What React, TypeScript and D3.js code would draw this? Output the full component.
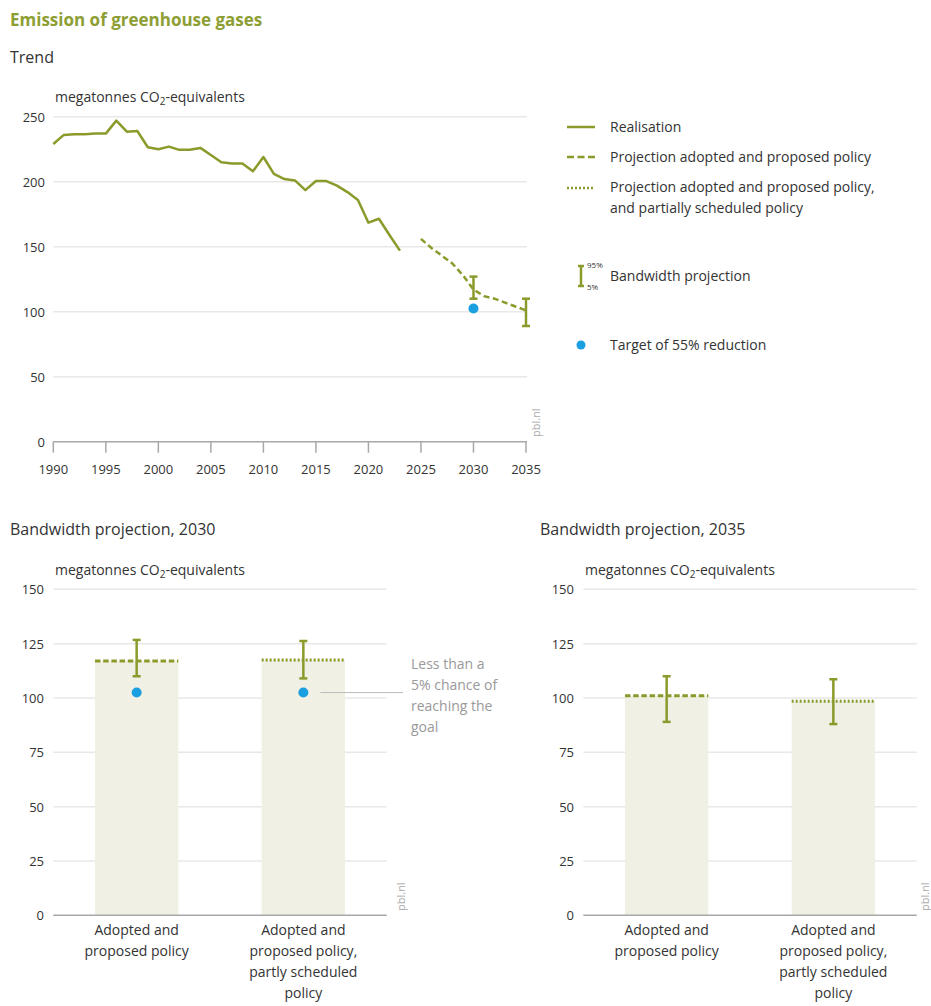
import React from 'react';
import * as d3 from 'd3';

// ---------- data ----------
const realYears = [1990,1991,1992,1993,1994,1995,1996,1997,1998,1999,2000,2001,2002,2003,2004,2005,2006,2007,2008,2009,2010,2011,2012,2013,2014,2015,2016,2017,2018,2019,2020,2021,2022,2023];
const realValues = [229,236,236.5,236.5,237,237,247,238.5,239,226.5,225,227,224.5,224.5,226,220.5,215,214,214,208,219,206,202,201,193.5,200.5,200.5,197,192,186,168.5,171.5,159,147];
const projYears = [2025,2026,2027,2028,2029,2030,2031,2032,2033,2034,2035];
const projValues = [156,149,143,137,128,117,112,110,107,104,101];
const bandYears = [2030, 2035];
const bandLow = [110, 89];
const bandHigh = [127, 110];
const targetYear = 2030;
const targetValue = 102.5;

const topYTicks = [0,50,100,150,200,250];
const topXTicks = [1990,1995,2000,2005,2010,2015,2020,2025,2030,2035];
const barYTicks = [0,25,50,75,100,125,150];

const categories = ['Adopted and proposed policy', 'Adopted and proposed policy, partly scheduled policy'];
const categoryLines = [['Adopted and', 'proposed policy'], ['Adopted and', 'proposed policy,', 'partly scheduled', 'policy']];
const mid2030 = [117, 117.5];
const low2030 = [110, 109];
const high2030 = [126.7, 126.2];
const target2030 = [102.5, 102.5];
const mid2035 = [101, 98.5];
const low2035 = [89, 88];
const high2035 = [110, 108.6];

const annotationLines = ['Less than a', '5% chance of', 'reaching the', 'goal'];

// ---------- styles ----------
const OLIVE = '#8b9a2b';
const TITLE = '#8d9e33';
const BLUE = '#1a9fe0';
const BARFILL = '#f0f0e5';
const GRID = '#e8e8e8';
const AXIS = '#a8a8a8';
const TEXT = '#333333';
const FONT = '"Open Sans", "Noto Sans", sans-serif';

function ErrorBar({ x, y1, y2, cap = 4, sw = 2.5 }: { x: number; y1: number; y2: number; cap?: number; sw?: number }) {
  return (
    <g stroke={OLIVE} strokeWidth={sw} fill="none">
      <line x1={x} x2={x} y1={y1} y2={y2} />
      <line x1={x - cap} x2={x + cap} y1={y1} y2={y1} />
      <line x1={x - cap} x2={x + cap} y1={y2} y2={y2} />
    </g>
  );
}

function Unit({ x, y }: { x: number; y: number }) {
  return (
    <text x={x} y={y} fontSize={14} fill={TEXT}>
      megatonnes CO<tspan dy={3} fontSize={10}>2</tspan><tspan dy={-3}>-equivalents</tspan>
    </text>
  );
}

function BarChart({ ox, title, mids, lows, highs, targets, annotate, pblX }: { ox: number; title: string; mids: number[]; lows: number[]; highs: number[]; targets?: number[]; annotate?: boolean; pblX: number }) {
  const y = d3.scaleLinear().domain([0, 150]).range([915.3, 589.3]);
  const x = d3.scaleBand<string>().domain(categories).range([ox + 53.3, ox + 386.7]).paddingInner(0.5).paddingOuter(0.25);
  const bw = x.bandwidth();
  return (
    <g>
      <text x={ox + 10} y={535} fontSize={16} fill={TEXT}>{title}</text>
      <Unit x={ox + 55} y={575} />
      {barYTicks.map(t => (
        <g key={t}>
          {t > 0 && <line x1={ox + 53.3} x2={ox + 386.7} y1={y(t)} y2={y(t)} stroke={GRID} strokeWidth={1.5} />}
          <text x={ox + 44} y={y(t) + 5} fontSize={13} textAnchor="end" fill={TEXT}>{t}</text>
        </g>
      ))}
      {categories.map((c, i) => {
        const x0 = x(c) as number;
        const cx = x0 + bw / 2;
        return (
          <g key={c}>
            <rect x={x0} width={bw} y={y(mids[i])} height={y(0) - y(mids[i])} fill={BARFILL} />
            <line x1={x0} x2={x0 + bw} y1={y(mids[i])} y2={y(mids[i])} stroke={OLIVE} strokeWidth={3}
              strokeDasharray={i === 0 ? '5.5,2.7' : '2,2'} />
            <ErrorBar x={cx} y1={y(highs[i])} y2={y(lows[i])} />
            {targets && <circle cx={cx} cy={y(targets[i])} r={5} fill={BLUE} />}
            {categoryLines[i].map((l, j) => (
              <text key={j} x={cx} y={935 + j * 21} fontSize={14} textAnchor="middle" fill={TEXT}>{l}</text>
            ))}
          </g>
        );
      })}
      <line x1={ox + 53.3} x2={ox + 386.7} y1={y(0)} y2={y(0)} stroke={AXIS} strokeWidth={1.5} />
      <text transform={`translate(${pblX},911) rotate(-90)`} fontSize={11} fill="#aaaaaa">pbl.nl</text>
      {annotate && targets && (
        <g>
          <line x1={(x(categories[1]) as number) + bw / 2 + 17} x2={ox + 403} y1={y(targets[1])} y2={y(targets[1])} stroke="#bbbbbb" strokeWidth={1} />
          {annotationLines.map((l, j) => (
            <text key={j} x={ox + 411} y={669 + j * 21} fontSize={14} fill="#999999">{l}</text>
          ))}
        </g>
      )}
    </g>
  );
}

export default function App() {
  const x = d3.scaleLinear().domain([1990, 2035]).range([53.3, 526]);
  const y = d3.scaleLinear().domain([0, 250]).range([441.7, 116.7]);
  const line = d3.line<[number, number]>().x(d => x(d[0])).y(d => y(d[1]));
  const realPts = realYears.map((yr, i) => [yr, realValues[i]] as [number, number]);
  const projPts = projYears.map((yr, i) => [yr, projValues[i]] as [number, number]);

  return (
    <svg width={931} height={1006} style={{ position: 'absolute', left: 0, top: 0, background: '#fff' }} fontFamily={FONT}>
      <text x={10} y={26} fontSize={17} fontWeight="bold" fill={TITLE}>Emission of greenhouse gases</text>
      <text x={10} y={63} fontSize={16} fill={TEXT}>Trend</text>
      <Unit x={55} y={102} />

      {/* top chart grid + axes */}
      {topYTicks.map(t => (
        <g key={t}>
          {t > 0 && <line x1={53.3} x2={527} y1={y(t)} y2={y(t)} stroke={GRID} strokeWidth={1.5} />}
          <text x={45} y={y(t) + 5} fontSize={13} textAnchor="end" fill={TEXT}>{t}</text>
        </g>
      ))}
      <line x1={53.3} x2={527} y1={y(0)} y2={y(0)} stroke={AXIS} strokeWidth={1.5} />
      {topXTicks.map(t => (
        <g key={t}>
          <line x1={x(t)} x2={x(t)} y1={y(0)} y2={y(0) + 11} stroke={AXIS} strokeWidth={1.5} />
          <text x={x(t)} y={474} fontSize={13} textAnchor="middle" fill={TEXT}>{t}</text>
        </g>
      ))}
      <text transform="translate(540,437) rotate(-90)" fontSize={11} fill="#aaaaaa">pbl.nl</text>

      <path d={line(realPts) || ''} fill="none" stroke={OLIVE} strokeWidth={2.5} strokeLinejoin="round" />
      <path d={line(projPts) || ''} fill="none" stroke={OLIVE} strokeWidth={2.5} strokeDasharray="6,3.5" />
      {bandYears.map((yr, i) => (
        <ErrorBar key={yr} x={x(yr)} y1={y(bandHigh[i])} y2={y(bandLow[i])} />
      ))}
      <circle cx={x(targetYear)} cy={y(targetValue)} r={5} fill={BLUE} />

      {/* legend */}
      <g fontSize={14} fill={TEXT}>
        <line x1={567} x2={595} y1={127} y2={127} stroke={OLIVE} strokeWidth={2.5} />
        <text x={610} y={131.5}>Realisation</text>
        <line x1={567} x2={595} y1={157} y2={157} stroke={OLIVE} strokeWidth={2.5} strokeDasharray="7,3.5" />
        <text x={610} y={162}>Projection adopted and proposed policy</text>
        <line x1={567} x2={595} y1={188} y2={188} stroke={OLIVE} strokeWidth={2.5} strokeDasharray="2,2" />
        <text x={610} y={192}>Projection adopted and proposed policy,</text>
        <text x={610} y={213}>and partially scheduled policy</text>
        <ErrorBar x={581} y1={266} y2={286} cap={3} />
        <text x={587} y={268} fontSize={8}>95%</text>
        <text x={587} y={290} fontSize={8}>5%</text>
        <text x={610} y={281}>Bandwidth projection</text>
        <circle cx={581} cy={345} r={4.5} fill={BLUE} />
        <text x={610} y={350}>Target of 55% reduction</text>
      </g>

      <BarChart ox={0} title="Bandwidth projection, 2030" mids={mid2030} lows={low2030} highs={high2030} targets={target2030} annotate pblX={405} />
      <BarChart ox={530} title="Bandwidth projection, 2035" mids={mid2035} lows={low2035} highs={high2035} pblX={929} />
    </svg>
  );
}
